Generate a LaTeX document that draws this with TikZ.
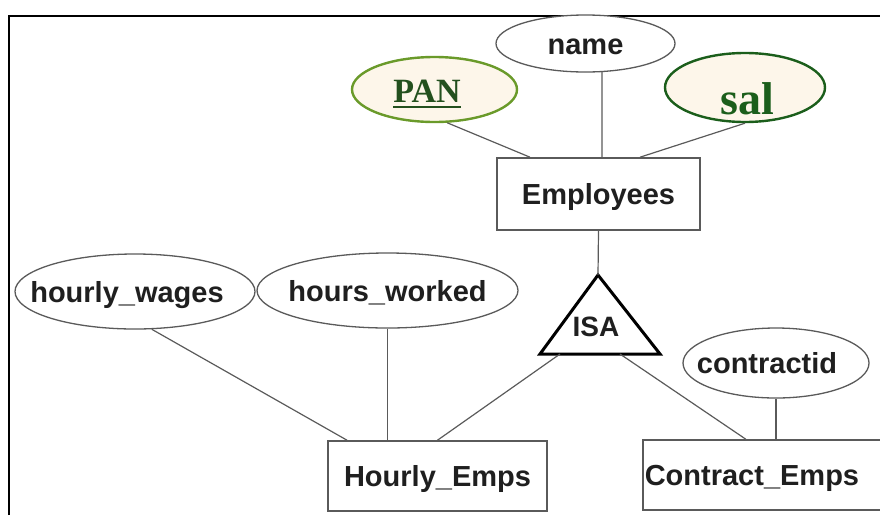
\documentclass[tikz,border=0pt]{standalone}
\usepackage{fontspec}
\setmainfont{Liberation Serif}
\setsansfont{Liberation Sans}
\usetikzlibrary{shapes.geometric}

\definecolor{edgegray}{HTML}{5A5A5A}
\definecolor{pangreen}{HTML}{6A9A2A}
\definecolor{salgreen}{HTML}{1B5E1B}
\definecolor{keytext}{HTML}{23501E}
\definecolor{attrfill}{HTML}{FDF6EA}

\newcommand{\keyline}[1]{\setbox0\hbox{#1}\rlap{\rule[-6pt]{\wd0}{2pt}}\box0}

\begin{document}
\begin{tikzpicture}[x=1pt,y=-1pt]
  \tikzset{attr/.style = {ellipse, draw=edgegray, line width=1.3pt, fill=white, inner xsep=-30pt, inner ysep=0pt, text height=25pt, text depth=4pt, text=black!88, font=\sffamily\bfseries\fontsize{29}{29}\selectfont}}
  \tikzset{entity/.style = {rectangle, draw=edgegray, line width=1.6pt, fill=white, inner sep=0pt, text height=25pt, text depth=4pt, text=black!88, font=\sffamily\bfseries\fontsize{29}{29}\selectfont}}
  \tikzset{keyattr/.style = {ellipse, line width=2.4pt, fill=attrfill, inner xsep=-30pt, inner ysep=-12pt}}
  \tikzset{link/.style = {-, draw=edgegray, line width=1.2pt}}

  \useasboundingbox (0,0) rectangle (880,515);
  \clip (0,0) rectangle (880,515);
  % frame
  \draw[line width=2pt] (9,515) -- (9,16) -- (880,16);

\node[attr, minimum width=179pt, minimum height=57pt] (name) at (585.5,43.5) {name};
\node[keyattr, draw=pangreen, text=keytext, minimum width=165pt, minimum height=65pt, text height=30pt, text depth=5pt, font=\rmfamily\bfseries\fontsize{34}{34}\selectfont] (pan) at (434.5,89.5) {\keyline{PAN}\hspace{15pt}\null};
\node[keyattr, draw=salgreen, text=salgreen, minimum width=160pt, minimum height=69pt, text height=55pt, text depth=2pt, font=\rmfamily\bfseries\fontsize{46}{46}\selectfont] (sal) at (745,87.5) {\hspace{4pt}sal};
\node[entity, minimum width=203pt, minimum height=72pt] (emp) at (598.5,194) {Employees};

% ISA triangle
\coordinate (isatop) at (598,275);
\coordinate (isaleft) at (540,354);
\coordinate (isaright) at (660,354);
\coordinate (isafoot1) at (560,354);
\coordinate (isafoot2) at (620,354);
\draw[line width=3pt, line join=miter] (isatop) -- (isaleft) -- (isaright) -- cycle;
\node[inner sep=0pt, text height=25pt, text depth=4pt, text=black!88, font=\sffamily\bfseries\fontsize{28}{28}\selectfont] (isa) at (596,326) {ISA};

\node[attr, minimum width=240pt, minimum height=75pt] (wages) at (135,291.5) {hourly\_wages\hspace{16pt}\null};
\node[attr, minimum width=261pt, minimum height=75pt] (hours) at (387.5,290.5) {hours\_worked};
\node[attr, minimum width=186pt, minimum height=70pt] (cid) at (776,363) {contractid\hspace{18pt}\null};

\node[entity, minimum width=219pt, minimum height=70pt] (hemps) at (437.5,476) {Hourly\_Emps};
\node[entity, minimum height=70pt, text width=238pt, align=left, inner xsep=2pt, anchor=west] (cemps) at (642,475) {Contract\_Emps};

    \path (pan.-69) edge[link] ([xshift=-68.5pt]emp.north);
    \path (name.-60) edge[link] ([xshift=3.5pt]emp.north);
    \path (sal.south) edge[link] ([xshift=41.5pt]emp.north);
    \path (emp.south) edge[link] (isatop);

    \path (isafoot1) edge[link] (hemps.north);
    \path (isafoot2) edge[link] ([xshift=-18pt]cemps.north);
    \path (wages.-66) edge[link] ([xshift=-90.5pt]hemps.north);
    \path (hours.south) edge[link] (hours.south |- hemps.north);
    \path (cid.south) edge[link] (cid.south |- cemps.north);
%    \path (name.south) edge[link] (emp.north);

\end{tikzpicture}
\end{document}
